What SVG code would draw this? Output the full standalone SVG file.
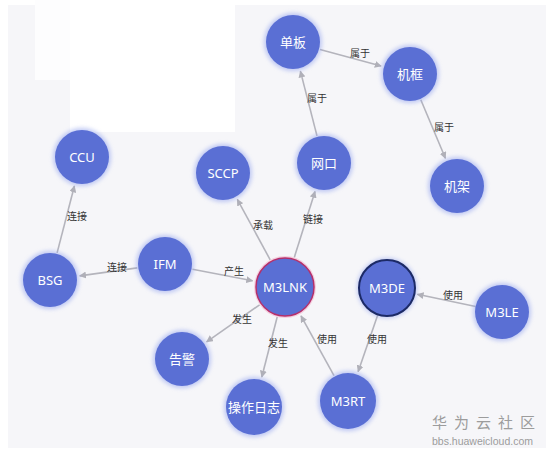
<svg xmlns="http://www.w3.org/2000/svg" width="553" height="453" viewBox="0 0 553 453">
<defs>
<marker id="arr" viewBox="0 0 10 10" refX="9" refY="5" markerWidth="7" markerHeight="7" markerUnits="userSpaceOnUse" orient="auto">
<path d="M0,0 L10,5 L0,10 z" fill="#b0b0b8"/>
</marker>
<filter id="glow" x="-30%" y="-30%" width="160%" height="160%">
<feGaussianBlur stdDeviation="2"/>
</filter>
</defs>
<style>
.bg{fill:#f6f6f9}
.edge{stroke:#b4b4bc;stroke-width:1.6;fill:none;marker-end:url(#arr)}
.el{font-family:"Noto Sans CJK SC","Noto Sans",sans-serif;font-size:10px;fill:#333;text-anchor:middle}
.halo{fill:#8fa0ee;opacity:0.55;filter:url(#glow)}
.n{fill:#5a6fd4}
.nt{font-family:"Noto Sans","Noto Sans CJK SC",sans-serif;font-size:13px;fill:#fff;text-anchor:middle;dominant-baseline:central}
</style>
<rect width="553" height="453" fill="#fff"/>
<rect class="bg" x="8" y="5" width="538" height="443"/>
<rect x="70" y="0" width="165" height="132" fill="#fff"/>
<rect x="35" y="0" width="35" height="80" fill="#fdfdfe"/>

<g id="edges">
<line class="edge" x1="320" y1="49.4" x2="381.1" y2="66.1"/>
<text class="el" x="360" y="57">属于</text>
<line class="edge" x1="317" y1="135.9" x2="300.4" y2="71.1"/>
<text class="el" x="317" y="102">属于</text>
<line class="edge" x1="420.8" y1="99.8" x2="445.4" y2="158.3"/>
<text class="el" x="444" y="131">属于</text>
<line class="edge" x1="57.1" y1="252.9" x2="74.4" y2="186"/>
<text class="el" x="77" y="220">连接</text>
<line class="edge" x1="137.3" y1="267.9" x2="79.7" y2="275.9"/>
<text class="el" x="117" y="271">连接</text>
<line class="edge" x1="192.5" y1="269.3" x2="252.6" y2="280.8"/>
<text class="el" x="234" y="275">产生</text>
<line class="edge" x1="270.2" y1="259.8" x2="237.3" y2="199.3"/>
<text class="el" x="263" y="229">承载</text>
<line class="edge" x1="294.3" y1="257.4" x2="315" y2="191.4"/>
<text class="el" x="313" y="223">链接</text>
<line class="edge" x1="259.6" y1="304.8" x2="206.6" y2="341.8"/>
<text class="el" x="242" y="323">发生</text>
<line class="edge" x1="277.2" y1="317" x2="261.8" y2="377"/>
<text class="el" x="278" y="347">发生</text>
<line class="edge" x1="334" y1="375.6" x2="301" y2="315.9"/>
<text class="el" x="327" y="343">使用</text>
<line class="edge" x1="377.9" y1="314.5" x2="358.1" y2="371.7"/>
<text class="el" x="377" y="343">使用</text>
<line class="edge" x1="475.6" y1="306.5" x2="417.3" y2="294.3"/>
<text class="el" x="453" y="299">使用</text>
</g>

<g id="n-danban"><circle class="halo" cx="293" cy="42" r="29"/><circle class="n" cx="293" cy="42" r="27"/><text class="nt" x="293" y="42">单板</text></g>
<g id="n-jikuang"><circle class="halo" cx="410" cy="74" r="29"/><circle class="n" cx="410" cy="74" r="27"/><text class="nt" x="410" y="74">机框</text></g>
<g id="n-jijia"><circle class="halo" cx="457" cy="186" r="29"/><circle class="n" cx="457" cy="186" r="27"/><text class="nt" x="457" y="186">机架</text></g>
<g id="n-wangkou"><circle class="halo" cx="324" cy="163" r="29"/><circle class="n" cx="324" cy="163" r="27"/><text class="nt" x="324" y="163">网口</text></g>
<g id="n-sccp"><circle class="halo" cx="223" cy="173" r="29"/><circle class="n" cx="223" cy="173" r="27"/><text class="nt" x="223" y="173">SCCP</text></g>
<g id="n-ccu"><circle class="halo" cx="82" cy="157" r="29"/><circle class="n" cx="82" cy="157" r="27"/><text class="nt" x="82" y="157">CCU</text></g>
<g id="n-bsg"><circle class="halo" cx="50" cy="280" r="29"/><circle class="n" cx="50" cy="280" r="27"/><text class="nt" x="50" y="280">BSG</text></g>
<g id="n-ifm"><circle class="halo" cx="165" cy="264" r="29"/><circle class="n" cx="165" cy="264" r="27"/><text class="nt" x="165" y="264">IFM</text></g>
<g id="n-m3lnk"><circle cx="285" cy="287" r="31" fill="#f3c6d8" opacity="0.8"/><circle class="n" cx="285" cy="287" r="29" stroke="#b52f6b" stroke-width="1.5"/><text class="nt" x="285" y="287">M3LNK</text></g>
<g id="n-m3de"><circle class="halo" cx="387" cy="288" r="30"/><circle class="n" cx="387" cy="288" r="28" stroke="#1c2a66" stroke-width="2"/><text class="nt" x="387" y="288">M3DE</text></g>
<g id="n-m3le"><circle class="halo" cx="502" cy="312" r="29"/><circle class="n" cx="502" cy="312" r="27"/><text class="nt" x="502" y="312">M3LE</text></g>
<g id="n-gaojing"><circle class="halo" cx="182" cy="359" r="29"/><circle class="n" cx="182" cy="359" r="27"/><text class="nt" x="182" y="359">告警</text></g>
<g id="n-caozuorizhi"><circle class="halo" cx="254" cy="407" r="30"/><circle class="n" cx="254" cy="407" r="28"/><text class="nt" x="254" y="407">操作日志</text></g>
<g id="n-m3rt"><circle class="halo" cx="348" cy="401" r="30"/><circle class="n" cx="348" cy="401" r="28"/><text class="nt" x="348" y="401">M3RT</text></g>

<g id="watermark">
<text x="432" y="428" font-family="Noto Sans CJK SC,sans-serif" font-size="15" fill="#9c9c9c" letter-spacing="7">华为云社区</text>
<text x="432" y="445" font-family="Liberation Sans,sans-serif" font-size="10.5" fill="#9c9c9c">bbs.huaweicloud.com</text>
</g>
</svg>
